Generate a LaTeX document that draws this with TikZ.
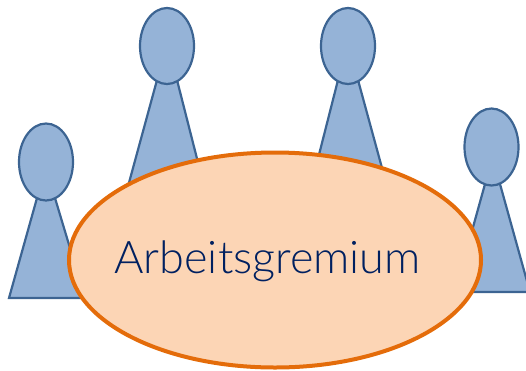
\documentclass[tikz,border=0pt]{standalone}
\usepackage{fontspec}
\setmainfont{Lato Light}
\usepackage{tikz}
\usetikzlibrary{shapes.geometric}
\definecolor{figfill}{RGB}{149,179,215}
\definecolor{figline}{RGB}{60,100,146}
\definecolor{ovalfill}{RGB}{252,213,181}
\definecolor{ovalline}{RGB}{228,108,10}
\definecolor{txtcol}{RGB}{0,32,96}
\tikzset{
	figure/.style={draw=figline,fill=figfill,line width=2.2pt},
	gremium/.style={draw=ovalline,fill=ovalfill,line width=4pt},
}
\begin{document}
\begin{tikzpicture}[x=1pt,y=-1pt]
	\useasboundingbox (0,0) rectangle (526,370);
	% Figuren
	\draw[figure] (9,298) -- (37,198) -- (55,198) -- (85,298) -- cycle;
	\draw[figure] (46,162) ellipse (27 and 38.5);
	\draw[figure] (127,190) -- (157,80) -- (177,80) -- (205,190) -- cycle;
	\draw[figure] (167,46) ellipse (27 and 38);
	\draw[figure] (310,190) -- (338,80) -- (358,80) -- (388,190) -- cycle;
	\draw[figure] (348,46) ellipse (27 and 38);
	\draw[figure] (455,292) -- (485,184) -- (500,184) -- (530,292) -- cycle;
	\draw[figure] (491.5,147) ellipse (27 and 38.5);
	% Gremium
	\node[gremium,ellipse,minimum width=412pt,minimum height=215pt,inner sep=0pt] (gremium) at (275,260) {};
	\node[text=txtcol,font=\fontsize{45}{54}\selectfont] (titel) at (267.5,261) {Arbeitsgremium};
\end{tikzpicture}
\end{document}
